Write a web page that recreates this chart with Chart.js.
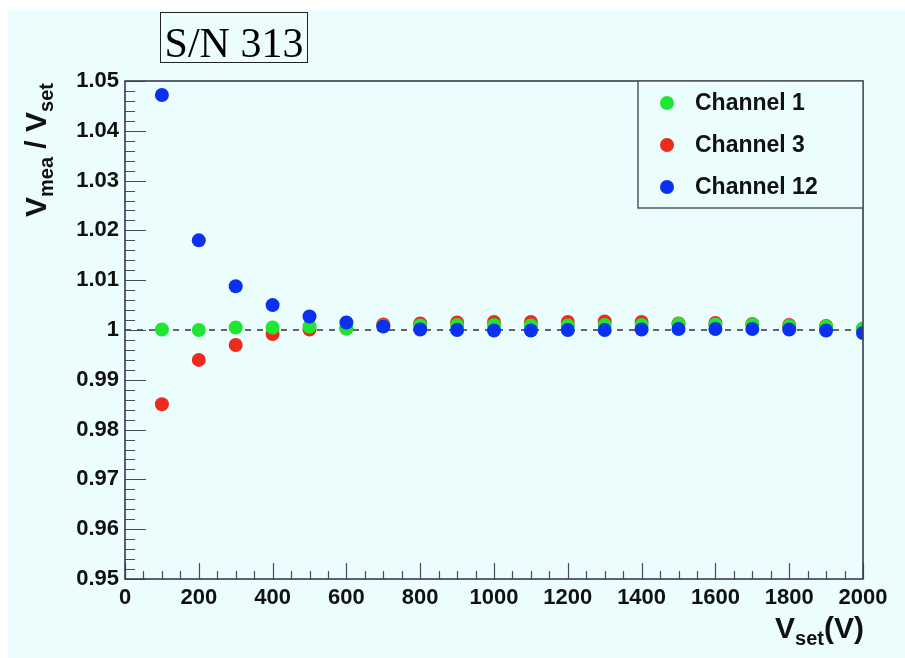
<!DOCTYPE html>
<html>
<head>
<meta charset="utf-8">
<script src="https://cdn.jsdelivr.net/npm/chart.js@4/dist/chart.umd.min.js"></script>
<style>
  html, body { margin: 0; padding: 0; background: #ffffff; }
  canvas { display: block; }
</style>
</head>
<body>
<canvas id="ratioChart" width="905" height="658"></canvas>
<script>
// Measured / set voltage ratio, S/N 313
const voltages = [100, 200, 300, 400, 500, 600, 700, 800, 900, 1000,
                  1100, 1200, 1300, 1400, 1500, 1600, 1700, 1800, 1900, 2000];
const ch1 = [1.0001, 1.0000, 1.0005, 1.0005, 1.0007, 1.0003, 1.0008, 1.0009, 1.0010, 1.0010,
             1.0009, 1.0009, 1.0010, 1.0010, 1.0012, 1.0011, 1.0011, 1.0008, 1.0007, 1.0003];
const ch3 = [0.9851, 0.9940, 0.9970, 0.9992, 1.0001, 1.0003, 1.0011, 1.0013, 1.0015, 1.0016,
             1.0016, 1.0016, 1.0017, 1.0016, 1.0013, 1.0014, 1.0012, 1.0010, 1.0008, 1.0002];
const ch12 = [1.0472, 1.0180, 1.0088, 1.0050, 1.0027, 1.0015, 1.0007, 1.0001, 1.0000, 0.9999,
              0.9999, 1.0000, 1.0000, 1.0001, 1.0002, 1.0002, 1.0002, 1.0001, 0.9999, 0.9994];
const refX = [0, 2000];
const refY = [1, 1];
const seriesLabels = ['Channel 1', 'Channel 3', 'Channel 12'];

const BG = '#ebfdfd';
const FRAME = '#3a3a4c';
const SANS = '"Liberation Sans", Arial, sans-serif';

function toPoints(xs, ys) {
    return xs.map((x, i) => ({ x: x, y: ys[i] }));
}

// background, frame, inward ticks, titles and legend box
const decorPlugin = {
    id: 'decor',
    beforeDraw(chart) {
        const ctx = chart.ctx;
        ctx.save();
        ctx.fillStyle = '#ffffff';
        ctx.fillRect(0, 0, chart.width, chart.height);
        ctx.fillStyle = BG;
        ctx.fillRect(8, 10, chart.width - 8, chart.height - 10);
        ctx.restore();
    },
    afterDraw(chart) {
        const ctx = chart.ctx;
        const a = chart.chartArea;
        const xs = chart.scales.x;
        const ys = chart.scales.y;
        ctx.save();

        // tick marks pointing inward
        ctx.strokeStyle = '#4a4a5c';
        ctx.lineWidth = 1.2;
        ctx.beginPath();
        for (let i = 0; i <= 50; i++) {
            const py = Math.round(ys.getPixelForValue(0.95 + i * 0.002)) + 0.5;
            const len = i % 5 === 0 ? 21 : 10;
            ctx.moveTo(a.left, py);
            ctx.lineTo(a.left + len, py);
        }
        for (let i = 0; i <= 40; i++) {
            const px = Math.round(xs.getPixelForValue(i * 50)) + 0.5;
            const len = i % 4 === 0 ? 16 : 8;
            ctx.moveTo(px, a.bottom);
            ctx.lineTo(px, a.bottom - len);
        }
        ctx.stroke();

        // frame
        ctx.strokeStyle = FRAME;
        ctx.lineWidth = 1.6;
        ctx.strokeRect(a.left, a.top, a.right - a.left, a.bottom - a.top);

        // legend box
        const lx = 638, ly = a.top, lw = a.right - 638, lh = 127;
        ctx.fillStyle = BG;
        ctx.fillRect(lx, ly, lw, lh);
        ctx.strokeStyle = '#555566';
        ctx.lineWidth = 1.5;
        ctx.strokeRect(lx, ly, lw, lh);
        const rows = [103, 145, 187];
        seriesLabels.forEach((lab, i) => {
            const ds = chart.data.datasets[i];
            ctx.fillStyle = ds.backgroundColor;
            ctx.beginPath();
            ctx.arc(667, rows[i], 7, 0, Math.PI * 2);
            ctx.fill();
            ctx.fillStyle = '#111111';
            ctx.font = 'bold 23px ' + SANS;
            ctx.textAlign = 'left';
            ctx.textBaseline = 'middle';
            ctx.fillText(lab, 695, rows[i] + 1);
        });

        // y axis title: V_mea / V_set (rotated)
        ctx.fillStyle = '#111111';
        ctx.textBaseline = 'alphabetic';
        ctx.translate(46, 217);
        ctx.rotate(-Math.PI / 2);
        let cx = 0;
        const parts = [['V', 30, 0], ['mea', 20, 7], [' / ', 30, 0], ['V', 30, 0], ['set', 20, 7]];
        parts.forEach(p => {
            ctx.font = 'bold ' + p[1] + 'px ' + SANS;
            ctx.fillText(p[0], cx, p[2]);
            cx += ctx.measureText(p[0]).width;
        });
        ctx.setTransform(1, 0, 0, 1, 0, 0);

        // x axis title: V_set(V)
        let tx = 775;
        const xparts = [['V', 30, 0], ['set', 20, 7], ['(V)', 30, 0]];
        xparts.forEach(p => {
            ctx.font = 'bold ' + p[1] + 'px ' + SANS;
            ctx.fillText(p[0], tx, 638 + p[2]);
            tx += ctx.measureText(p[0]).width;
        });

        // serial number box
        ctx.fillStyle = BG;
        ctx.fillRect(160, 12, 147, 50);
        ctx.strokeStyle = '#222222';
        ctx.lineWidth = 1;
        ctx.strokeRect(160.5, 12.5, 147, 50);
        ctx.fillStyle = '#000000';
        ctx.font = '42px "Liberation Serif", "Times New Roman", serif';
        ctx.textAlign = 'center';
        ctx.fillText('S/N 313', 234, 57);

        ctx.restore();
    }
};

new Chart(document.getElementById('ratioChart').getContext('2d'), {
    type: 'scatter',
    data: {
        datasets: [
            {
                label: seriesLabels[0],
                data: toPoints(voltages, ch1),
                backgroundColor: '#1ee632',
                borderWidth: 0,
                pointRadius: 7,
                order: 2
            },
            {
                label: seriesLabels[1],
                data: toPoints(voltages, ch3),
                backgroundColor: '#ee2a1c',
                borderWidth: 0,
                pointRadius: 7,
                order: 3
            },
            {
                label: seriesLabels[2],
                data: toPoints(voltages, ch12),
                backgroundColor: '#0b30f0',
                borderWidth: 0,
                pointRadius: 7,
                order: 1
            },
            {
                label: 'ref',
                data: toPoints(refX, refY),
                showLine: true,
                borderColor: '#333340',
                borderWidth: 1.5,
                borderDash: [6, 6],
                pointRadius: 0,
                order: 5
            }
        ]
    },
    options: {
        responsive: false,
        animation: false,
        events: [],
        layout: {
            padding: { top: 81, right: 42, left: 0, bottom: 0 }
        },
        plugins: {
            legend: { display: false },
            tooltip: { enabled: false }
        },
        scales: {
            x: {
                type: 'linear',
                position: 'bottom',
                min: 0,
                max: 2000,
                grid: { display: false, drawTicks: false },
                border: { display: false },
                ticks: {
                    stepSize: 200,
                    autoSkip: false,
                    maxRotation: 0,
                    padding: 6,
                    color: '#111111',
                    font: { family: SANS, size: 22, weight: 'bold' },
                    callback: function(v) { return String(Math.round(v)); }
                },
                afterFit: function(scale) { scale.height = 79; }
            },
            y: {
                min: 0.95,
                max: 1.05,
                grid: { display: false, drawTicks: false },
                border: { display: false },
                ticks: {
                    stepSize: 0.01,
                    padding: 6,
                    color: '#111111',
                    font: { family: SANS, size: 22, weight: 'bold' },
                    callback: function(v) { return parseFloat(v.toFixed(3)).toString(); }
                },
                afterFit: function(scale) { scale.width = 125; }
            }
        }
    },
    plugins: [decorPlugin]
});
</script>
</body>
</html>
